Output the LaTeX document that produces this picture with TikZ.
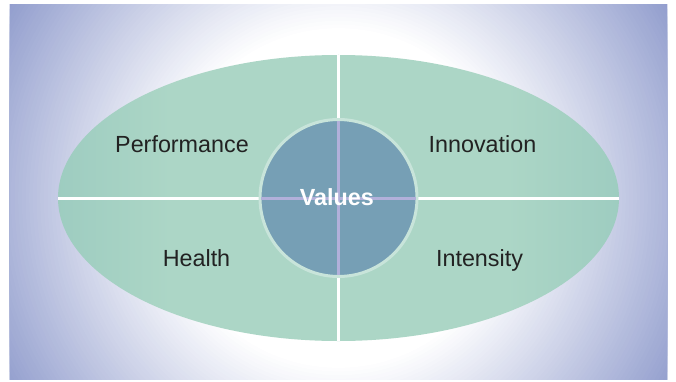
\documentclass[tikz,border=0pt]{standalone}
\usepackage{tikz}
\usepackage{xcolor}
\usepackage{fontspec}
\setmainfont{Liberation Sans}
\usetikzlibrary{shapes.geometric}
\definecolor{glowEdge}{RGB}{143,155,204}
\definecolor{leafLight}{RGB}{172,214,198}
\definecolor{leafDark}{RGB}{122,180,178}
\definecolor{coreFill}{RGB}{118,159,181}
\definecolor{coreRim}{RGB}{200,228,218}
\definecolor{coreLine}{RGB}{178,176,218}
\definecolor{labelInk}{RGB}{34,34,34}
\pgfdeclarehorizontalshading{leaf}{100bp}{color(0bp)=(leafDark); color(35bp)=(leafLight); color(65bp)=(leafLight); color(100bp)=(leafDark)}
\newcommand\labelFont{\fontsize{16.6}{20}\selectfont}

\begin{document}
\begin{tikzpicture}
    \useasboundingbox (-8.4625,-4.575) rectangle (8.4375,4.95);

    % backdrop
    \begin{scope}
        \clip (-8.2125,-4.525) rectangle (8.2125,4.825);
        \foreach \i in {0,...,60} {
            \pgfmathsetmacro\glowR{9.75-\i*0.0917}
            \pgfmathsetmacro\glowMix{\i*100/60}
            \fill[white!\glowMix!glowEdge] (0,0) circle (\glowR);
        }
    \end{scope}

    \node[ellipse, shade, shading=leaf, minimum width=14.025cm, minimum height=7.15cm, inner sep=0pt, outer sep=0pt] (plate) at (0,0) {};
    \draw[white, line width=0.075cm] (plate.west) -- (plate.east);
    \draw[white, line width=0.075cm] (plate.north) -- (plate.south);

    \node[circle, fill=coreFill, draw=coreRim, line width=0.075cm, minimum size=3.925cm, inner sep=0pt, outer sep=0pt] (core) at (0,0) {};
    \draw[coreLine, line width=0.075cm, shorten <=1pt, shorten >=1pt] (core.west) -- (core.east);
    \draw[coreLine, line width=0.075cm, shorten <=1pt, shorten >=1pt] (core.north) -- (core.south);
    \node[anchor=base, text=white, font=\labelFont\bfseries] (values) at (-0.04,-0.19) {Values};

    \node[anchor=base, text=labelInk, font=\labelFont] (performance) at (-3.9125,1.13) {Performance};
    \node[anchor=base, text=labelInk, font=\labelFont] (innovation) at (3.6,1.13) {Innovation};
    \node[anchor=base, text=labelInk, font=\labelFont] (health) at (-3.55,-1.72) {Health};
    \node[anchor=base, text=labelInk, font=\labelFont] (intensity) at (3.525,-1.72) {Intensity};
\end{tikzpicture}
\end{document}
